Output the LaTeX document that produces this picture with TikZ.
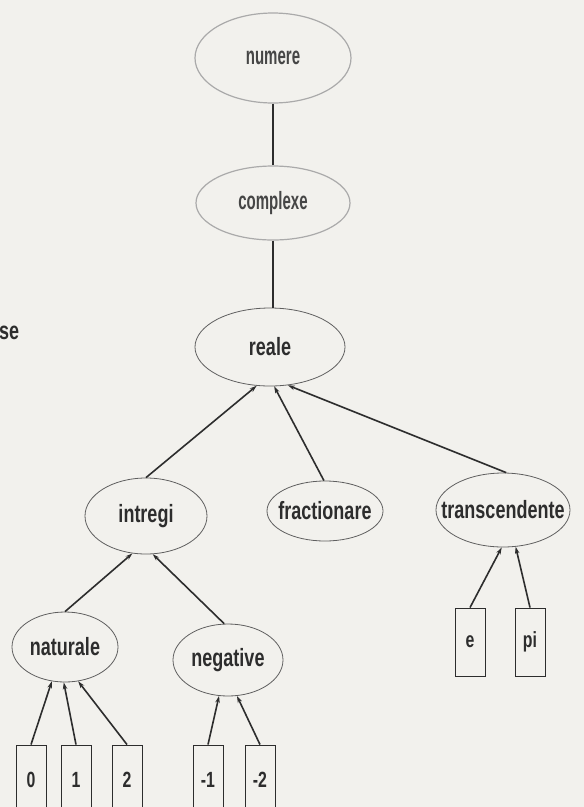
\documentclass[tikz,border=0pt]{standalone}
\usepackage{fontspec}
\setmainfont{Liberation Sans}
\newfontfamily\lblfont[FakeStretch=0.72]{Liberation Sans}
\newfontfamily\topfont[FakeStretch=0.6]{Liberation Sans}
\usetikzlibrary{arrows.meta,shapes.geometric}
\definecolor{paper}{RGB}{242,241,237}
\definecolor{ink}{RGB}{45,45,45}
\definecolor{topink}{RGB}{70,70,70}
\definecolor{rim}{RGB}{95,95,95}
\definecolor{faderim}{RGB}{170,170,170}
\newcommand{\ctr}[1]{\makebox[0pt]{#1}}

\begin{document}
\begin{tikzpicture}[x=1pt, y=-1pt, >={Stealth[length=7pt,width=4.5pt]},
    every node/.style={text=ink, inner sep=0pt},
    cls/.style={draw=rim, line width=0.8pt, ellipse,
                font=\lblfont\bfseries\fontsize{25}{30}\selectfont},
    topcls/.style={draw=faderim, line width=1.2pt, ellipse, text=topink,
                font=\topfont\bfseries\fontsize{25}{30}\selectfont},
    val/.style={draw=ink, line width=0.9pt, minimum width=30pt, minimum height=70pt,
                font=\lblfont\bfseries\fontsize{22}{26}\selectfont},
    link/.style={draw=ink, line width=1.6pt}]

  \useasboundingbox (0,0) rectangle (584,807);
  \clip (0,0) rectangle (584,807);
  \fill[paper] (0,0) rectangle (584,807);

  % class hierarchy
  \node[topcls, minimum width=156pt, minimum height=90pt] (numere) at (273,58) {\ctr{numere}};
  \node[topcls, minimum width=154pt, minimum height=74pt] (complexe) at (273,203) {\ctr{complexe}};
  \node[cls, minimum width=150pt, minimum height=78pt] (reale) at (270,347) {\ctr{reale}};

  \node[cls, minimum width=122pt, minimum height=76pt] (intregi) at (146,516) {\ctr{intregi}};
  \node[cls, minimum width=116pt, minimum height=60pt] (fract) at (325,511) {\ctr{fractionare}};
  \node[cls, minimum width=134pt, minimum height=74pt] (transc) at (503,510) {\ctr{transcendente}};

  \node[cls, minimum width=106pt, minimum height=70pt] (natur) at (65,647) {\ctr{naturale}};
  \node[cls, minimum width=110pt, minimum height=72pt] (negat) at (228,660) {\ctr{negative}};

  % instances
  \node[val] (n0) at (31,780) {0};
  \node[val] (n1) at (76,780) {1};
  \node[val] (n2) at (127,780) {2};
  \node[val] (m1) at (208,780) {-1};
  \node[val] (m2) at (260,780) {-2};
  \node[val, minimum height=68pt] (ce) at (470,642) {e};
  \node[val, minimum height=68pt] (cpi) at (530,642) {pi};

  \node[font=\lblfont\bfseries\fontsize{25}{30}\selectfont, anchor=west] (se) at (-1,333) {se};

  \draw[link] (numere.south) -- (complexe.north);
  \draw[link] (complexe.south) -- (complexe.south |- reale.north);
  \draw[link,->] (intregi.north) -- (reale.251);
  \draw[link,->] (fract.92) -- (reale.276);
  \draw[link,->] (transc.85) -- (reale.295);
  \draw[link,->] (natur.north) -- (intregi.250);
  \draw[link,->] (negat.96) -- (intregi.280);
  \draw[link,->] (n0.north) -- (natur.249);
  \draw[link,->] (n1.north) -- (natur.268);
  \draw[link,->] (n2.north) -- (natur.291);
  \draw[link,->] (m1.north) -- (negat.256);
  \draw[link,->] (m2.north) -- (negat.284);
  \draw[link,->] (ce.north) -- (transc.268);
  \draw[link,->] (cpi.north) -- (transc.289);
\end{tikzpicture}
\end{document}
